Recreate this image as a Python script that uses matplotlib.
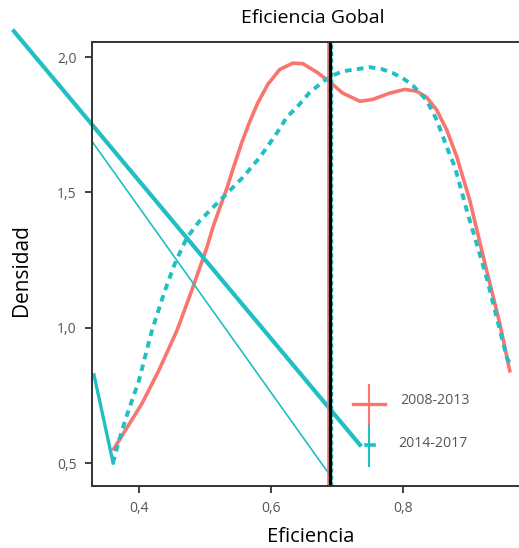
import numpy as np
import matplotlib.pyplot as plt

plt.rcParams['font.family'] = ['Open Sans', 'DejaVu Sans']

RED = "#F8766D"
TEAL = "#1FBFC3"

# density curve 2008-2013
x_0813 = [0.362, 0.379, 0.4045, 0.430, 0.4576, 0.480, 0.503, 0.512, 0.5227, 0.5333,
          0.5424, 0.556, 0.568, 0.580, 0.5955, 0.6136, 0.6333, 0.6485, 0.670, 0.682,
          0.6924, 0.709, 0.735, 0.7545, 0.780, 0.803, 0.821, 0.836, 0.8515, 0.8667,
          0.882, 0.9015, 0.927, 0.947, 0.962]
y_0813 = [0.552, 0.619, 0.719, 0.841, 0.989, 1.137, 1.296, 1.370, 1.444, 1.515,
          1.585, 1.685, 1.762, 1.830, 1.900, 1.955, 1.978, 1.976, 1.944, 1.922,
          1.902, 1.867, 1.837, 1.844, 1.867, 1.881, 1.874, 1.852, 1.804, 1.730,
          1.630, 1.470, 1.211, 1.015, 0.841]

# density curve 2014-2017
x_1417 = [0.3606, 0.3697, 0.379, 0.3894, 0.400, 0.409, 0.4197, 0.4394, 0.4545, 0.4727,
          0.4924, 0.512, 0.5333, 0.5576, 0.5833, 0.609, 0.624, 0.6394, 0.659, 0.682,
          0.694, 0.709, 0.750, 0.768, 0.785, 0.800, 0.815, 0.836, 0.8515, 0.8667,
          0.879, 0.897, 0.927, 0.9576, 0.962]
y_1417 = [0.500, 0.581, 0.656, 0.730, 0.804, 0.889, 0.989, 1.137, 1.237, 1.333,
          1.396, 1.444, 1.496, 1.556, 1.630, 1.719, 1.778, 1.815, 1.870, 1.915,
          1.933, 1.948, 1.963, 1.956, 1.941, 1.922, 1.896, 1.841, 1.767, 1.667,
          1.593, 1.433, 1.185, 0.889, 0.870]

# stray straight lines in the original
thick_x = [0.2106, 0.735]
thick_y = [2.096, 0.567]
thin_x = [0.329, 0.686]
thin_y = [1.689, 0.467]
short_x = [0.332, 0.361]
short_y = [0.826, 0.500]

mean_line = 0.689

series = ["2008-2013", "2014-2017"]

xticks = [0.4, 0.6, 0.8]
yticks = [0.5, 1.0, 1.5, 2.0]

fig = plt.figure(figsize=(5.19, 5.48), dpi=100)
ax = fig.add_axes([0.1773, 0.1131, 0.8227, 0.8102])

ax.plot(x_0813, y_0813, color=RED, lw=2.6, solid_joinstyle='round')
ax.plot(x_1417, y_1417, color=TEAL, lw=2.8, linestyle=(0, (1.7, 1.4)))

ax.plot(thick_x, thick_y, color=TEAL, lw=3.0, clip_on=False)
ax.plot(thin_x, thin_y, color=TEAL, lw=1.2)
ax.plot(short_x, short_y, color=TEAL, lw=2.4, clip_on=False)

ax.axvline(mean_line - 0.0025, color=RED, lw=1.2)
ax.axvline(mean_line + 0.0035, color=TEAL, lw=1.0, linestyle=(0, (3, 2)))
ax.axvline(mean_line, color="black", lw=2.4)

# hand drawn legend keys
ax.plot([0.611, 0.686], [0.1847, 0.1847], color=RED, lw=2.4, transform=ax.transAxes, clip_on=False)
ax.plot([0.6487, 0.6487], [0.135, 0.2275], color=RED, lw=1.5, transform=ax.transAxes, clip_on=False)
ax.plot([0.6487, 0.6487], [0.045, 0.135], color=TEAL, lw=1.5, transform=ax.transAxes, clip_on=False)
ax.plot([0.642, 0.660], [0.0923, 0.0923], color=TEAL, lw=2.6, transform=ax.transAxes, clip_on=False)
ax.text(0.721, 0.1937, series[0], transform=ax.transAxes, fontsize=10.2,
        color="#555555", va="center", ha="left")
ax.text(0.7166, 0.0968, series[1], transform=ax.transAxes, fontsize=10.2,
        color="#555555", va="center", ha="left")

ax.set_xlim(0.329, 0.976)
ax.set_ylim(0.415, 2.056)
ax.set_xticks(xticks)
ax.set_xticklabels([f"{t:.1f}".replace(".", ",") for t in xticks])
ax.set_yticks(yticks)
ax.set_yticklabels([f"{t:.1f}".replace(".", ",") for t in yticks])
ax.tick_params(direction="out", length=5, width=1.3, colors="#333333",
               labelcolor="#555555", labelsize=10, pad=6)

for side in ["left", "bottom", "top"]:
    ax.spines[side].set_linewidth(1.4)
    ax.spines[side].set_color("#333333")
ax.spines["right"].set_visible(False)

fig.text(313 / 519, 1 - 18 / 548, "Eficiencia Gobal", ha="center", va="center", fontsize=14)
fig.text(311 / 519, 1 - 537 / 548, "Eficiencia", ha="center", va="center", fontsize=14.5)
fig.text(22 / 519, 1 - 270 / 548, "Densidad", ha="center", va="center", fontsize=15, rotation=90)

fig.savefig("out.png", dpi=100)
